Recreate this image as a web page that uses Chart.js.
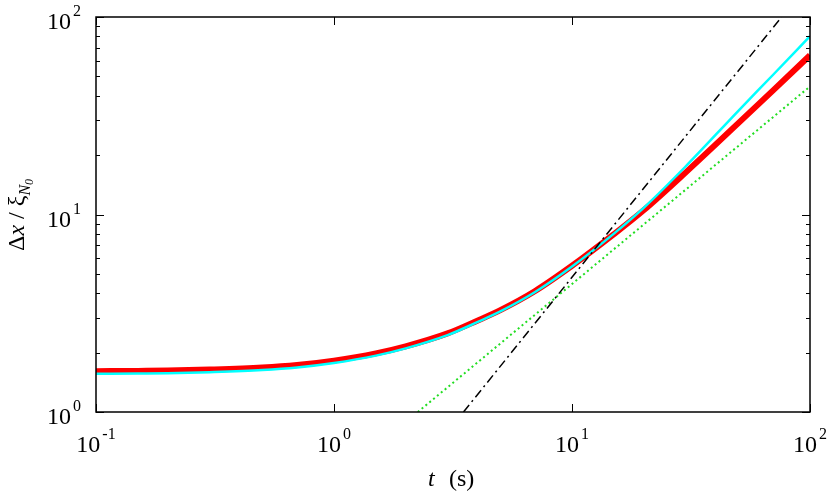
<!DOCTYPE html>
<html>
<head>
<meta charset="utf-8">
<script src="https://cdn.jsdelivr.net/npm/chart.js@4"></script>
<style>
  html, body { margin: 0; padding: 0; background: #fff; }
  #wrap { width: 830px; height: 495px; }
</style>
</head>
<body>
<div id="wrap"><canvas id="c" width="830" height="495"></canvas></div>
<script>
'use strict';

/* ---------------- data ---------------- */
const tVals    = [0.1, 0.15, 0.2, 0.3, 0.5, 0.7, 1, 1.5, 2, 3, 4, 5, 7, 10, 15, 20, 30, 50, 70, 100];
const redVals  = [1.61, 1.615, 1.62, 1.64, 1.68, 1.73, 1.82, 1.98, 2.15, 2.5, 2.9, 3.28, 4.1, 5.5, 7.95, 10.5, 16.3, 29, 42.5, 64];
const cyanVals = [1.56, 1.565, 1.57, 1.59, 1.63, 1.68, 1.77, 1.93, 2.10, 2.45, 2.85, 3.23, 4.05, 5.45, 8.0, 10.8, 17.5, 33.5, 51, 80];
const greenT   = [2.25, 100];
const greenY   = [1, 44.5];
const blackT   = [3.5, 76];
const blackY   = [1, 100];

const xMajor = [0.1, 1, 10, 100];
const xExp   = ['-1', '0', '1', '2'];
const yMajor = [1, 10, 100];
const yExp   = ['0', '1', '2'];

const pts = (xs, ys) => xs.map((x, i) => ({ x: x, y: ys[i] }));

const SERIF = '"Liberation Serif", "DejaVu Serif", serif';

/* draws 10^n as base + superscript */
function drawPow(ctx, exp, x, y, align) {
  ctx.font = '24px ' + SERIF;
  const wb = ctx.measureText('10').width;
  ctx.font = '16px ' + SERIF;
  const we = ctx.measureText(exp).width;
  const total = wb + 2 + we;
  let left = x;
  if (align === 'right') left = x - total;
  if (align === 'center') left = x - total / 2;
  ctx.textAlign = 'left';
  ctx.textBaseline = 'alphabetic';
  ctx.font = '24px ' + SERIF;
  ctx.fillText('10', left, y);
  ctx.font = '16px ' + SERIF;
  ctx.fillText(exp, left + wb + 2, y - 13);
}

const framePlugin = {
  id: 'frame',
  afterDraw(chart) {
    const ctx = chart.ctx;
    const a = chart.chartArea;
    const xs = chart.scales.x;
    const ys = chart.scales.y;
    ctx.save();
    ctx.strokeStyle = '#000';
    ctx.fillStyle = '#000';
    ctx.lineWidth = 1.5;
    ctx.strokeRect(a.left, a.top, a.right - a.left, a.bottom - a.top);

    ctx.lineWidth = 1;
    ctx.beginPath();
    xMajor.forEach((v) => {
      const px = Math.round(xs.getPixelForValue(v)) + 0.5;
      ctx.moveTo(px, a.bottom); ctx.lineTo(px, a.bottom - 8);
      ctx.moveTo(px, a.top);    ctx.lineTo(px, a.top + 8);
    });
    for (let d = 1; d <= 100; d *= 10) {
      for (let m = 1; m <= 9; m++) {
        const v = d * m;
        if (v > 100) break;
        const len = m === 1 ? 8 : 4;
        const py = Math.round(ys.getPixelForValue(v)) + 0.5;
        ctx.moveTo(a.left, py);  ctx.lineTo(a.left + len, py);
        ctx.moveTo(a.right, py); ctx.lineTo(a.right - len, py);
      }
    }
    ctx.stroke();

    // tick labels
    xMajor.forEach((v, i) => drawPow(ctx, xExp[i], xs.getPixelForValue(v), a.bottom + 40, 'center'));
    yMajor.forEach((v, i) => drawPow(ctx, yExp[i], a.left - 15, ys.getPixelForValue(v) + 12, 'right'));

    // x title:  t  (s)
    ctx.textAlign = 'left';
    ctx.font = 'italic 24px ' + SERIF;
    ctx.fillText('t', 428, 486);
    ctx.font = '24px ' + SERIF;
    ctx.fillText('(s)', 449, 486);

    // y title:  Δx / ξ_{N0}
    ctx.translate(24, 251);
    ctx.rotate(-Math.PI / 2);
    let cx = 0;
    const piece = (txt, font, dy) => {
      ctx.font = font;
      ctx.fillText(txt, cx, dy);
      cx += ctx.measureText(txt).width;
    };
    piece('\u0394', '24px ' + SERIF, 0);
    piece('x', 'italic 24px ' + SERIF, 0);
    piece(' / ', '24px ' + SERIF, 0);
    piece('\u03BE', '24px ' + SERIF, 0);
    piece('N', 'italic 16px ' + SERIF, 6);
    piece('0', 'italic 12px ' + SERIF, 9);
    ctx.restore();
  }
};

new Chart(document.getElementById('c'), {
  type: 'line',
  data: {
    datasets: [
      {
        label: 'black',
        data: pts(blackT, blackY),
        borderColor: '#000000',
        borderWidth: 1.5,
        borderDash: [9, 4, 2, 4],
        pointRadius: 0,
        order: 0
      },
      {
        label: 'cyan',
        data: pts(tVals, cyanVals),
        borderColor: '#00ffff',
        borderWidth: 2.5,
        pointRadius: 0,
        cubicInterpolationMode: 'monotone',
        order: 1
      },
      {
        label: 'red',
        data: pts(tVals, redVals),
        borderColor: '#ff0000',
        borderWidth: 6,
        pointRadius: 0,
        cubicInterpolationMode: 'monotone',
        order: 2
      },
      {
        label: 'green',
        data: pts(greenT, greenY),
        borderColor: '#22dd22',
        borderWidth: 2,
        borderDash: [2, 3],
        pointRadius: 0,
        order: 3
      }
    ]
  },
  options: {
    responsive: false,
    animation: false,
    events: [],
    layout: { padding: { left: 96, right: 20, top: 17, bottom: 83 } },
    plugins: { legend: { display: false }, tooltip: { enabled: false } },
    scales: {
      x: { type: 'logarithmic', min: 0.1, max: 100, display: false },
      y: { type: 'logarithmic', min: 1, max: 100, display: false }
    }
  },
  plugins: [framePlugin]
});
</script>
</body>
</html>
